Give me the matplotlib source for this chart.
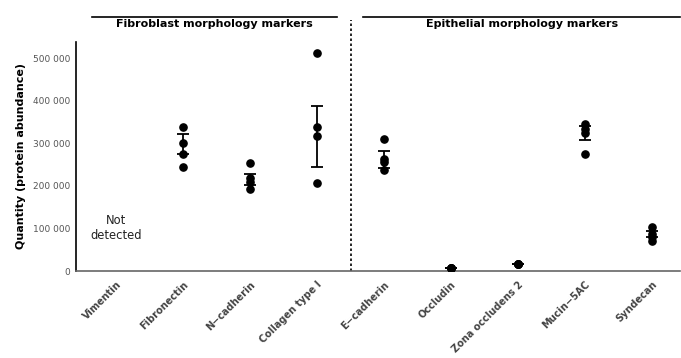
import matplotlib.pyplot as plt
from matplotlib.ticker import FuncFormatter

# markers on the x axis
markers = ["Vimentin", "Fibronectin", "N\u2212cadherin", "Collagen type I", "E\u2212cadherin",
           "Occludin", "Zona occludens 2", "Mucin\u22125AC", "Syndecan"]

# individual replicate values (Vimentin not detected)
replicates = [
    [],
    [338000, 300000, 275000, 245000],
    [253000, 218000, 210000, 193000],
    [513000, 338000, 316000, 206000],
    [310000, 262000, 255000, 238000],
    [8000, 7000, 6500, 6000],
    [17500, 17000, 16500, 16000],
    [345000, 333000, 323000, 275000],
    [104000, 87000, 80000, 71000],
]

# error bar centre and half width
centre = [None, 298500, 215000, 316500, 262000, 7000, 16800, 324500, 87000]
half_width = [None, 23500, 13000, 71500, 20000, 500, 500, 16500, 7000]

groups = ["Fibroblast morphology markers", "Epithelial morphology markers"]

fig = plt.figure(figsize=(6.81, 3.58), dpi=100)
ax = fig.add_axes([0.1116, 0.243, 0.887, 0.64])

for i, vals in enumerate(replicates):
    if not vals:
        continue
    ax.plot([i] * len(vals), vals, "o", color="black", markersize=5.2, zorder=3)
    ax.errorbar(i, centre[i], yerr=half_width[i], color="black", capsize=4.5,
                capthick=1.3, elinewidth=1.3, zorder=2)

ax.text(0, 101000, "Not\ndetected", ha="center", va="center", fontsize=8.3, color="#222222",
        linespacing=1.15)

ax.set_xlim(-0.6, 8.42)
ax.set_ylim(0, 538000)
ax.set_xticks(range(len(markers)))
ax.set_xticklabels(markers, rotation=45, ha="right", rotation_mode="anchor",
                   fontsize=7, fontweight="bold", color="#444444")
ax.set_yticks([0, 100000, 200000, 300000, 400000, 500000])
ax.yaxis.set_major_formatter(FuncFormatter(lambda v, p: f"{int(v):,}".replace(",", " ")))
ax.tick_params(axis="y", length=0, labelsize=6.5, labelcolor="#555555", pad=4)
ax.tick_params(axis="x", length=0, pad=6)
ax.set_ylabel("Quantity (protein abundance)", fontsize=8, fontweight="bold", labelpad=5)

for side in ["top", "right"]:
    ax.spines[side].set_visible(False)
ax.spines["left"].set_color("black")
ax.spines["left"].set_linewidth(1.2)
ax.spines["bottom"].set_color("#666666")
ax.spines["bottom"].set_linewidth(1.2)

# group annotations above the plot
ax.plot([-0.36, 3.30], [597000, 597000], color="black", lw=1.2, clip_on=False)
ax.plot([3.69, 8.42], [597000, 597000], color="black", lw=1.2, clip_on=False)
ax.text((-0.36 + 3.30) / 2, 580000, groups[0], ha="center", va="center", fontsize=8,
        fontweight="bold")
ax.text((3.69 + 8.42) / 2, 580000, groups[1], ha="center", va="center", fontsize=8,
        fontweight="bold")
ax.plot([3.5, 3.5], [0, 590000], color="black", lw=1.2, linestyle=(0, (1.5, 1.5)),
        clip_on=False)

fig.savefig("out.png", dpi=100)
